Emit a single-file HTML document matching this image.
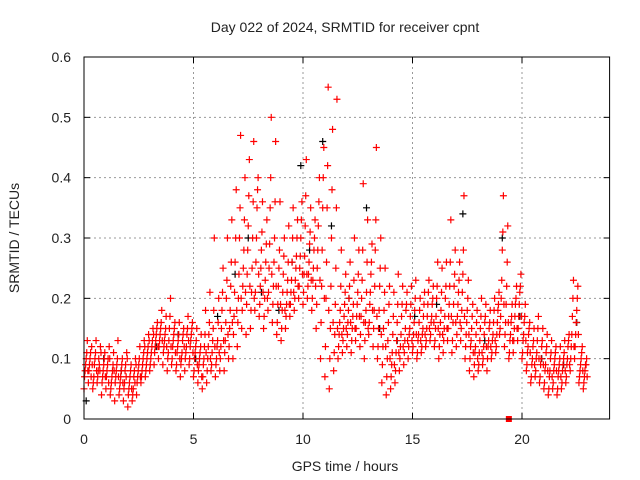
<!DOCTYPE html>
<html><head><meta charset="utf-8"><style>
body{margin:0;background:#fff}
svg{display:block;font-family:"Liberation Sans",sans-serif}
</style></head><body>
<svg id="chart" width="640" height="480" viewBox="0 0 640 480">
<text x="345" y="32" font-size="14" text-anchor="middle" fill="#222">Day 022 of 2024, SRMTID for receiver cpnt</text>
<text x="345" y="471" font-size="14" text-anchor="middle" fill="#222">GPS time / hours</text>
<text x="0" y="0" font-size="14" text-anchor="middle" fill="#222" transform="translate(19,238) rotate(-90)">SRMTID / TECUs</text>
<g id="grid"></g>
<g id="ticks"></g>
<g id="marks"></g>
<rect x="84" y="57" width="525.6" height="362" fill="none" stroke="#000" stroke-width="1"/>
</svg>
<script>
const xTicks=[0,5,10,15,20];
const yTicks=[0,0.1,0.2,0.3,0.4,0.5,0.6];
const yTickLabels=["0","0.1","0.2","0.3","0.4","0.5","0.6"];
const stepStart=0, stepSize=0.2;
const redVals=[
[.05,.08,.10,.13],[.06,.09,.11,.12],[.05,.07,.10,.13],[.06,.08,.09,.12],[.04,.07,.09,.11],
[.05,.08,.10,.12],[.04,.06,.08,.11],[.03,.07,.09,.13],[.04,.06,.08,.10],[.03,.06,.09,.11],
[.02,.05,.07,.09],[.03,.05,.08,.10],[.04,.07,.09,.12],[.06,.08,.10,.13],[.07,.09,.11,.14],
[.08,.10,.12,.15],[.09,.12,.14,.16],[.10,.13,.15,.18],[.09,.12,.14,.17],[.08,.11,.15,.20],
[.09,.12,.14,.16],[.08,.11,.13,.16],[.07,.10,.13,.15],[.08,.11,.14,.17],[.09,.12,.14,.16],
[.07,.10,.12,.15],[.06,.09,.11,.14],[.05,.09,.12,.18],[.06,.10,.14,.21],[.08,.11,.15,.30],
[.07,.10,.13,.20],[.08,.12,.18,.25],[.08,.13,.20,.30],[.10,.15,.22,.33],[.10,.17,.26,.38],
[.12,.20,.30,.47],[.15,.22,.28,.40],[.14,.24,.32,.43],[.15,.21,.30,.46],[.18,.26,.35,.40],
[.17,.22,.28,.36],[.15,.20,.26,.33],[.18,.25,.35,.50],[.16,.22,.30,.46],[.14,.19,.25,.36],
[.13,.18,.24,.30],[.15,.19,.23,.32],[.17,.21,.26,.35],[.18,.23,.27,.33],[.20,.25,.30,.36],
[.19,.24,.32,.43],[.20,.24,.29,.35],[.18,.23,.28,.33],[.15,.25,.32,.40],[.10,.22,.35,.45],
[.07,.20,.35,.55],[.05,.15,.30,.48],[.08,.14,.25,.53],[.10,.14,.18,.28],[.11,.15,.19,.24],
[.12,.16,.20,.26],[.11,.15,.19,.30],[.13,.17,.21,.28],[.12,.17,.23,.39],[.10,.16,.21,.33],
[.14,.19,.24,.29],[.12,.18,.28,.45],[.10,.15,.22,.30],[.06,.12,.18,.25],[.04,.10,.16,.22],
[.05,.09,.14,.21],[.06,.11,.16,.24],[.08,.12,.17,.22],[.09,.13,.18,.21],[.10,.14,.17,.22],
[.11,.14,.18,.23],[.10,.13,.16,.20],[.11,.14,.17,.21],[.12,.15,.19,.23],[.13,.16,.19,.22],
[.12,.15,.20,.26],[.10,.14,.18,.25],[.11,.15,.20,.26],[.13,.17,.22,.33],[.11,.16,.22,.28],
[.12,.17,.21,.26],[.13,.18,.24,.37],[.10,.14,.18,.23],[.08,.12,.15,.19],[.07,.11,.14,.18],
[.08,.11,.15,.20],[.09,.12,.16,.19],[.08,.12,.15,.18],[.10,.13,.16,.20],[.11,.14,.18,.21],
[.15,.20,.28,.37],[.12,.16,.22,.32],[.10,.13,.16,.19],[.11,.15,.19,.22],[.13,.17,.21,.24],
[.10,.13,.16,.19],[.08,.11,.14,.16],[.06,.09,.12,.15],[.07,.10,.13,.17],[.06,.09,.12,.15],
[.05,.08,.11,.14],[.04,.07,.10,.13],[.05,.08,.10,.12],[.04,.07,.09,.12],[.05,.08,.10,.13],
[.06,.09,.12,.14],[.08,.12,.17,.23],[.10,.14,.18,.22],[.06,.08,.10,.12],[.05,.07,.09,.10]
];
const redVals2=[
[.07,.09,.11,.08],[.08,.10,.07,.09],[.06,.09,.11,.08],[.07,.10,.08,.11],[.06,.08,.10,.07],
[.07,.09,.06,.10],[.05,.07,.09,.08],[.06,.08,.10,.07],[.05,.07,.09,.06],[.05,.08,.07,.10],
[.04,.06,.08,.05],[.04,.07,.06,.09],[.06,.08,.10,.07],[.07,.09,.11,.12],[.08,.10,.12,.13],
[.09,.11,.13,.14],[.11,.13,.15,.12],[.12,.14,.16,.13],[.11,.13,.15,.12],[.10,.13,.17,.12],
[.10,.13,.15,.11],[.09,.12,.14,.10],[.09,.11,.14,.12],[.10,.12,.15,.13],[.10,.13,.15,.11],
[.08,.11,.13,.09],[.08,.10,.12,.07],[.07,.10,.14,.11],[.08,.12,.16,.10],[.09,.13,.18,.12],
[.09,.12,.16,.11],[.10,.15,.21,.13],[.11,.16,.23,.14],[.12,.18,.26,.16],[.14,.21,.30,.18],
[.16,.24,.35,.20],[.18,.25,.33,.21],[.19,.28,.37,.22],[.18,.25,.36,.20],[.21,.30,.38,.24],
[.19,.25,.31,.21],[.17,.23,.29,.20],[.21,.29,.40,.24],[.19,.26,.36,.22],[.16,.22,.28,.19],
[.15,.21,.27,.18],[.17,.21,.26,.19],[.19,.23,.30,.21],[.20,.25,.30,.22],[.22,.27,.33,.24],
[.21,.27,.37,.24],[.22,.26,.31,.23],[.20,.25,.30,.22],[.19,.28,.36,.23],[.16,.28,.40,.20],
[.12,.26,.42,.18],[.10,.22,.38,.16],[.11,.19,.35,.15],[.12,.16,.22,.14],[.13,.17,.21,.15],
[.14,.18,.22,.16],[.13,.17,.23,.15],[.15,.19,.24,.17],[.14,.20,.28,.16],[.13,.18,.26,.15],
[.16,.21,.26,.18],[.15,.22,.33,.17],[.12,.18,.25,.14],[.09,.15,.21,.12],[.07,.13,.19,.10],
[.07,.11,.17,.09],[.08,.13,.19,.11],[.10,.14,.19,.12],[.11,.15,.19,.13],[.12,.15,.19,.13],
[.12,.16,.20,.14],[.11,.14,.18,.13],[.12,.15,.19,.14],[.13,.17,.21,.15],[.14,.17,.20,.16],
[.13,.17,.22,.15],[.12,.16,.21,.14],[.13,.17,.22,.15],[.15,.19,.26,.17],[.13,.19,.24,.16],
[.14,.19,.23,.16],[.15,.21,.28,.17],[.12,.16,.20,.14],[.10,.13,.17,.11],[.09,.12,.16,.10],
[.09,.13,.17,.11],[.10,.14,.17,.12],[.10,.13,.16,.12],[.11,.14,.18,.13],[.12,.16,.19,.14],
[.17,.23,.31,.19],[.14,.19,.26,.16],[.11,.14,.17,.13],[.13,.17,.20,.15],[.15,.19,.22,.17],
[.11,.14,.17,.13],[.09,.12,.15,.11],[.07,.10,.13,.09],[.08,.11,.15,.10],[.07,.10,.13,.09],
[.06,.09,.12,.08],[.05,.08,.11,.07],[.06,.09,.11,.08],[.05,.08,.10,.07],[.06,.09,.11,.08],
[.07,.10,.13,.09],[.10,.14,.20,.12],[.12,.16,.20,.14],[.07,.09,.11,.08],[.06,.08,.09,.07]
];
const blackT=[0.1,0.9,1.7,3.3,4.3,5.1,6.1,6.9,7.5,8.1,8.9,9.5,9.9,10.3,10.9,11.3,12.1,12.9,13.5,14.3,15.1,16.1,17.3,18.3,19.1,19.9,20.9,21.9,22.5];
const blackV=[0.03,0.10,0.08,0.12,0.14,0.10,0.17,0.24,0.30,0.21,0.18,0.26,0.42,0.28,0.46,0.32,0.20,0.35,0.15,0.13,0.17,0.19,0.34,0.13,0.30,0.17,0.10,0.09,0.16];
const markerT=[19.4];
const markerV=[0];
const X0=84,X1=609.6,Y0=419,Y1=57;
const xs=t=>X0+(t/24)*(X1-X0);
const ys=v=>Y0-(v/0.6)*(Y0-Y1);
const NS="http://www.w3.org/2000/svg";
const grid=document.getElementById('grid'),ticks=document.getElementById('ticks'),marks=document.getElementById('marks');
function line(p,x1,y1,x2,y2,st,dash){const l=document.createElementNS(NS,'line');l.setAttribute('x1',x1);l.setAttribute('y1',y1);l.setAttribute('x2',x2);l.setAttribute('y2',y2);l.setAttribute('stroke',st);l.setAttribute('stroke-width',1);if(dash)l.setAttribute('stroke-dasharray',dash);p.appendChild(l);return l;}
function txt(p,x,y,s,anchor){const t=document.createElementNS(NS,'text');t.setAttribute('x',x);t.setAttribute('y',y);t.setAttribute('font-size',14);t.setAttribute('fill','#222');t.setAttribute('text-anchor',anchor);t.textContent=s;p.appendChild(t);return t;}
xTicks.forEach(v=>{const x=xs(v);
 if(v>0){const g=line(grid,x,Y1,x,Y0,'#999','2,3');}
 line(ticks,x,Y0,x,Y0-6,'#000');line(ticks,x,Y1,x,Y1+6,'#000');
 const t=txt(ticks,x,444,String(v),'middle');
 
 
});
yTicks.forEach((v,i)=>{const y=ys(v);
 if(v>0&&v<0.6){const g=line(grid,X0,y,X1,y,'#999','2,3');}
 line(ticks,X0,y,X0+6,y,'#000');line(ticks,X1,y,X1-6,y,'#000');
 const t=txt(ticks,71,y+5,yTickLabels[i],'end');
 
 
});
function plus(t,v,col,name){const x=xs(t),y=ys(v);const p=document.createElementNS(NS,'path');
 p.setAttribute('d',`M${x-3.5} ${y}H${x+3.5}M${x} ${y-3.5}V${y+3.5}`);p.setAttribute('stroke',col);p.setAttribute('stroke-width',1.2);
 
 
 marks.appendChild(p);}
blackT.forEach((t,i)=>plus(t,blackV[i],'#000','black-point'));
redVals.forEach((vals,i)=>{const t=stepStart+i*stepSize;vals.forEach((v,k)=>plus(t+k*0.05,v,'#f00','red-point'));});
redVals2.forEach((vals,i)=>{const t=stepStart+i*stepSize+0.025;vals.forEach((v,k)=>plus(t+k*0.05,v,'#f00','red-point'));});
markerT.forEach((t,i)=>{const r=document.createElementNS(NS,'rect');r.setAttribute('x',xs(t)-3);r.setAttribute('y',ys(markerV[i])-3);r.setAttribute('width',6);r.setAttribute('height',6);r.setAttribute('fill','#f00');
 
 
 marks.appendChild(r);});
</script>
</body></html>
